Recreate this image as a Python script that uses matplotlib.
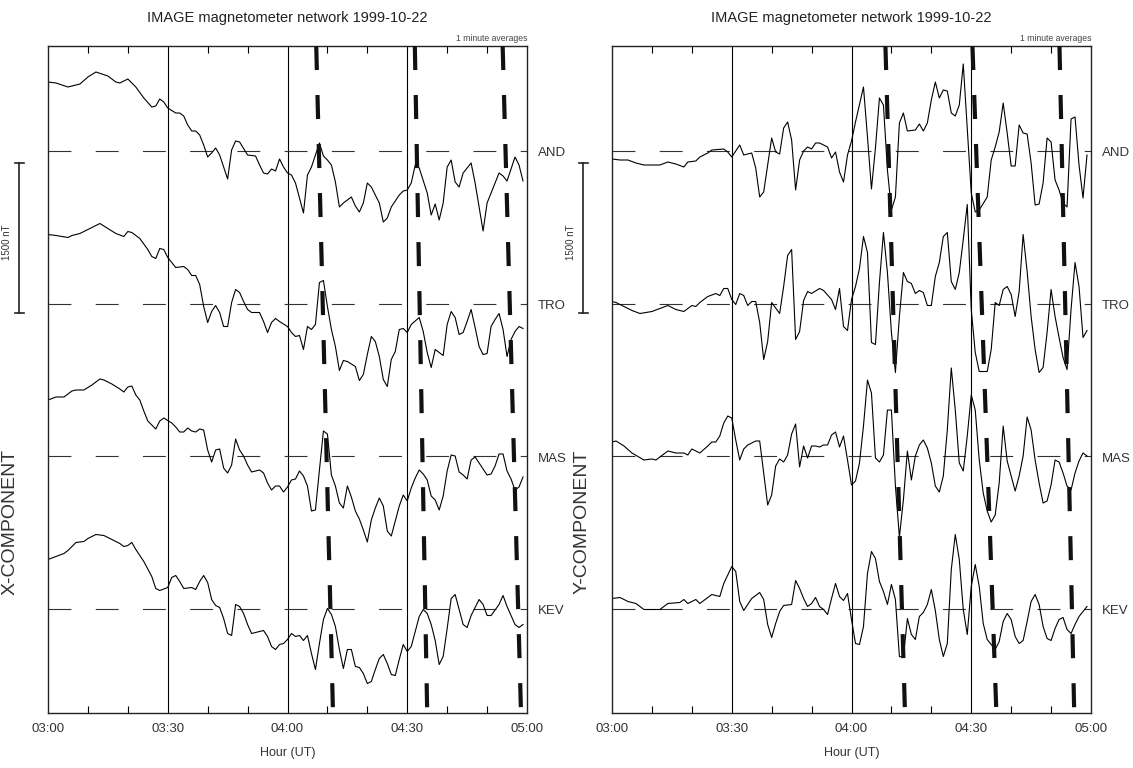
import numpy as np
import matplotlib.pyplot as plt
from matplotlib.transforms import blended_transform_factory

plt.rcParams['font.family'] = ['Liberation Sans', 'DejaVu Sans']
plt.rcParams['lines.scale_dashes'] = False

title = 'IMAGE magnetometer network 1999-10-22'
stations = ['AND', 'TRO', 'MAS', 'KEV']
base_nT = [5620, 4095, 2570, 1045]      # base line of each station (nT, stacked)
y_top = 6670
hour_ticks = [0, 30, 60, 90, 120]       # minutes after 03:00
hour_labels = ['03:00', '03:30', '04:00', '04:30', '05:00']
scale_nT = 1500
scale_bottom = 4000

# (minute after 03:00, deviation in nT)
and_x = [(0,690),(2,680),(5,640),(8,670),(10,740),(12,790),(15,750),(17,690),(18,680),(20,720),(22,640),(24,530),(26,440),(27,450),(28,520),(29,490),(30,430),(32,380),(33,380),(34,350),(35,260),(36,200),(37,200),(38,160),(39,60),(40,-60),(41,-20),(42,30),(43,-40),(45,-280),(46,10),(47,100),(48,90),(50,-40),(52,-50),(53,-140),(54,-220),(55,-230),(56,-180),(57,-200),(58,-80),(59,-160),(60,-220),(61,-240),(62,-320),(64,-620),(65,-240),(66,-160),(68,80),(69,-50),(70,-90),(71,-140),(72,-310),(73,-560),(74,-520),(76,-460),(77,-550),(78,-610),(79,-520),(80,-320),(81,-360),(83,-520),(84,-710),(85,-670),(86,-560),(88,-440),(89,-400),(90,-390),(91,-320),(92,-140),(93,-170),(95,-420),(96,-640),(97,-530),(98,-690),(99,-520),(100,-160),(101,-90),(102,-310),(103,-360),(104,-220),(106,-120),(107,-320),(109,-800),(110,-520),(112,-320),(113,-220),(114,-250),(115,-300),(117,-60),(118,-140),(119,-300)]
tro_x = [(0,690),(2,680),(5,660),(6,680),(8,700),(10,740),(13,800),(15,750),(17,700),(19,670),(20,720),(21,710),(23,650),(25,540),(26,470),(27,450),(28,550),(29,540),(30,460),(32,360),(34,370),(35,340),(36,280),(37,280),(38,190),(39,-30),(40,-190),(41,-80),(42,-20),(43,-90),(44,-230),(45,-230),(46,10),(47,140),(48,110),(49,20),(50,-60),(51,-90),(53,-90),(54,-180),(55,-290),(56,-190),(57,-150),(58,-180),(60,-230),(61,-290),(62,-330),(63,-320),(64,-460),(65,-230),(66,-260),(67,-210),(68,210),(69,230),(70,-30),(71,-260),(72,-430),(73,-670),(74,-570),(75,-580),(77,-630),(78,-770),(79,-710),(80,-510),(81,-330),(82,-380),(83,-530),(84,-760),(85,-830),(86,-560),(87,-480),(88,-260),(89,-250),(90,-290),(91,-210),(93,-140),(94,-280),(95,-490),(96,-640),(97,-460),(98,-490),(99,-520),(100,-210),(101,-80),(102,-140),(103,-310),(104,-290),(105,-180),(106,-60),(107,-240),(108,-430),(109,-510),(110,-500),(111,-230),(112,-160),(113,-100),(114,-260),(115,-530),(116,-360),(117,-280),(118,-230),(119,-250)]
mas_x = [(0,560),(2,590),(4,590),(6,650),(7,660),(9,660),(11,710),(13,770),(14,760),(16,720),(18,670),(19,640),(20,690),(21,700),(22,610),(23,560),(24,450),(25,350),(27,270),(28,350),(29,380),(31,330),(32,290),(33,240),(34,240),(35,280),(36,250),(37,240),(38,270),(39,260),(40,60),(41,-60),(42,60),(43,70),(44,-120),(45,-170),(46,-90),(47,170),(48,60),(49,0),(50,-90),(51,-160),(52,-150),(53,-140),(54,-170),(55,-270),(56,-340),(57,-300),(58,-300),(59,-360),(60,-310),(61,-240),(62,-230),(63,-150),(64,-200),(65,-300),(66,-550),(67,-540),(68,-140),(69,250),(70,220),(71,-190),(72,-300),(73,-470),(74,-520),(75,-300),(76,-410),(77,-550),(78,-630),(79,-740),(80,-860),(81,-640),(82,-520),(83,-420),(84,-500),(85,-750),(86,-800),(87,-650),(88,-500),(89,-390),(90,-450),(91,-320),(92,-220),(93,-140),(94,-180),(95,-240),(96,-400),(97,-440),(98,-540),(99,-400),(100,-150),(101,10),(102,0),(103,-160),(104,-190),(105,-230),(106,-40),(107,-10),(108,-70),(110,-190),(111,-180),(112,-100),(113,20),(114,20),(115,-150),(116,-230),(117,-340),(118,-310),(119,-210)]
kev_x = [(0,490),(2,520),(4,550),(5,580),(7,660),(9,670),(10,700),(12,740),(14,730),(16,690),(18,650),(19,620),(20,630),(21,660),(22,590),(24,470),(26,320),(27,200),(28,180),(30,210),(31,310),(32,330),(33,270),(34,200),(36,210),(37,190),(38,270),(39,330),(40,260),(41,90),(42,30),(43,10),(44,-100),(45,-250),(46,-270),(47,40),(48,20),(49,-50),(50,-160),(51,-250),(53,-230),(54,-220),(55,-280),(56,-380),(57,-410),(58,-360),(59,-350),(60,-310),(61,-250),(62,-280),(63,-270),(64,-320),(65,-270),(66,-450),(67,-610),(68,-350),(69,-110),(70,0),(71,-60),(72,-180),(73,-410),(74,-600),(75,-410),(76,-410),(77,-580),(78,-590),(79,-650),(80,-750),(81,-730),(82,-610),(83,-500),(84,-460),(85,-550),(86,-660),(87,-670),(88,-510),(89,-360),(90,-430),(91,-380),(92,-230),(93,-80),(94,-10),(95,-50),(96,-160),(97,-320),(98,-560),(99,-480),(100,-200),(101,100),(102,140),(103,-10),(104,-160),(105,-190),(106,-70),(108,90),(109,40),(110,-70),(111,-70),(113,40),(114,130),(115,20),(116,-70),(117,-160),(118,-190),(119,-160)]

and_y = [(0,-80),(2,-90),(4,-90),(6,-120),(8,-140),(12,-140),(14,-110),(16,-130),(18,-160),(19,-110),(21,-100),(22,-60),(24,-20),(25,10),(28,20),(29,-10),(30,-60),(32,60),(33,-40),(35,-20),(36,-170),(37,-460),(38,-410),(40,130),(41,-10),(42,-30),(43,230),(44,290),(45,110),(46,-390),(47,-90),(48,0),(49,40),(50,20),(51,80),(52,80),(54,40),(55,-70),(56,-10),(57,-210),(58,-310),(59,-40),(60,100),(61,290),(63,640),(64,140),(65,-380),(66,30),(67,530),(68,460),(69,-190),(70,-590),(71,-460),(72,280),(73,380),(74,200),(76,210),(77,270),(78,200),(79,280),(80,510),(81,690),(82,530),(83,610),(84,600),(85,380),(86,350),(87,460),(88,870),(90,-420),(91,-610),(92,-590),(94,-460),(95,-90),(96,40),(97,190),(98,480),(99,180),(100,-150),(101,-150),(102,260),(103,180),(104,170),(105,-120),(106,-540),(107,-530),(108,-320),(109,130),(110,90),(111,-290),(112,-390),(113,-520),(114,-560),(115,320),(116,340),(117,-140),(118,-470),(119,-40)]
tro_y = [(0,20),(1,10),(3,-30),(5,-70),(7,-100),(10,-80),(12,-50),(14,-20),(16,-60),(18,-80),(20,-20),(21,-30),(22,10),(24,70),(26,100),(27,80),(28,150),(29,150),(30,40),(31,-10),(32,100),(33,80),(34,-20),(35,20),(36,20),(37,-190),(38,-560),(39,-380),(40,10),(42,-100),(43,170),(44,480),(45,540),(46,-360),(47,-280),(48,30),(49,120),(50,100),(52,150),(53,130),(55,40),(56,-60),(57,150),(58,-230),(59,-270),(60,40),(61,170),(62,350),(63,670),(64,510),(65,-390),(66,-410),(67,210),(68,710),(69,310),(70,-290),(71,-690),(72,-130),(73,310),(74,220),(75,200),(76,100),(77,130),(78,110),(79,-20),(80,-20),(81,270),(82,410),(83,670),(84,710),(85,220),(86,140),(87,310),(88,640),(89,990),(90,-60),(91,-490),(92,-680),(94,-680),(95,-460),(96,10),(97,-20),(98,140),(99,170),(100,90),(101,-130),(102,120),(103,690),(104,320),(105,-130),(106,-460),(107,-690),(108,-640),(109,-290),(110,140),(111,-130),(112,-340),(113,-540),(114,-660),(115,-60),(116,410),(117,170),(118,-340),(119,-270)]
mas_y = [(0,140),(1,150),(3,100),(5,30),(8,-40),(10,-30),(11,-40),(12,-10),(14,50),(16,30),(18,30),(19,10),(20,70),(22,30),(24,100),(25,140),(26,140),(27,200),(28,330),(29,400),(30,380),(31,160),(32,-40),(33,70),(34,110),(36,150),(37,150),(38,-170),(39,-490),(40,-390),(41,-100),(42,-30),(43,-60),(44,10),(45,220),(46,320),(47,-110),(48,100),(49,-20),(50,100),(51,100),(52,90),(53,110),(54,110),(55,210),(56,240),(57,90),(58,200),(59,-40),(60,-290),(61,-250),(62,-70),(63,300),(64,760),(65,630),(66,-20),(67,-60),(68,10),(69,460),(70,460),(71,-300),(72,-810),(73,-440),(74,50),(75,-240),(76,0),(77,110),(78,160),(79,80),(80,-70),(81,-300),(82,-360),(83,-200),(84,260),(85,880),(86,460),(87,-70),(88,-150),(89,200),(90,610),(91,460),(92,-40),(93,-370),(94,-550),(95,-660),(96,-590),(97,-270),(98,300),(99,-50),(100,-200),(101,-350),(102,-200),(103,0),(104,390),(105,260),(106,-40),(107,-270),(108,-470),(109,-450),(110,-290),(111,-40),(112,-60),(113,-170),(114,-300),(115,-340),(116,-170),(117,-50),(118,30),(119,0)]
kev_y = [(0,100),(2,110),(4,70),(6,50),(8,-10),(10,-10),(12,-10),(14,50),(17,60),(18,90),(19,50),(21,90),(22,50),(24,110),(25,140),(27,120),(28,250),(30,420),(31,370),(32,70),(33,-20),(34,40),(35,100),(37,160),(38,90),(39,-160),(40,-290),(41,-150),(42,-30),(43,30),(45,40),(46,280),(47,200),(48,100),(49,20),(50,50),(51,110),(52,20),(53,-10),(54,-60),(55,100),(56,250),(57,120),(58,80),(59,150),(60,-110),(61,-350),(62,-360),(63,-180),(64,350),(65,570),(66,500),(67,270),(68,170),(69,40),(70,240),(71,90),(72,-480),(73,-490),(74,-100),(75,-260),(76,-310),(77,-80),(78,-40),(79,40),(80,190),(81,-20),(82,-310),(83,-480),(84,-350),(85,390),(86,740),(87,490),(88,-10),(89,-260),(90,220),(91,440),(92,220),(93,-150),(94,-310),(95,-360),(96,-410),(97,-330),(98,-130),(99,-50),(100,-110),(101,-280),(102,-350),(103,-320),(104,-130),(105,70),(106,140),(107,40),(108,-180),(109,-300),(110,-320),(111,-200),(112,-110),(113,-90),(114,-210),(115,-250),(116,-160),(117,-80),(119,20)]

# thick dashed lines: minute at top and at bottom of the panel
x_front_top = [67.2, 91.9, 113.9]
x_front_bot = [71.4, 95.0, 118.5]
y_front_top = [68.5, 90.3, 112.1]
y_front_bot = [73.4, 96.3, 115.8]


def panel(ax, traces, f_top, f_bot):
    ax.set_xlim(0, 120)
    ax.set_ylim(0, y_top)
    for m in hour_ticks[1:-1]:
        ax.axvline(m, color='k', lw=0.8, zorder=1)
    for base, tr in zip(base_nT, traces):
        ax.plot([0, 120], [base, base], color='#333', lw=0.8, ls=(0, (16.5, 17.5)), zorder=1)
        t, v = zip(*tr)
        ax.plot(t, base + np.array(v), color='k', lw=0.8, zorder=2)
    for a, b in zip(f_top, f_bot):
        ax.plot([a, b], [y_top, 0], color='#111', lw=3, ls=(0, (17.3, 18.0)),
                dash_capstyle='butt', zorder=3)

    ax.set_xticks(hour_ticks)
    ax.set_xticklabels(hour_labels)
    ax.set_xticks([m for m in range(10, 120, 10) if m % 30], minor=True)
    ax.tick_params(axis='x', which='major', length=0, pad=7, labelsize=9.5, labelcolor='#333')
    ax.tick_params(axis='x', which='minor', direction='in', top=True, length=5, width=0.8)
    ax.set_yticks([])
    for s in ax.spines.values():
        s.set_linewidth(1.0)
        s.set_color('#222')

    tr = blended_transform_factory(ax.transAxes, ax.transData)
    for name, base in zip(stations, base_nT):
        ax.text(1.023, base - 25, name, transform=tr, va='center', ha='left', fontsize=9.5, color='#333')

    # scale bar
    xb = -0.06
    ax.plot([xb, xb], [scale_bottom, scale_bottom + scale_nT], transform=tr, clip_on=False,
            color='#222', lw=1.2)
    for yy in [scale_bottom, scale_bottom + scale_nT]:
        ax.plot([xb - 0.009, xb + 0.009], [yy, yy], transform=tr, clip_on=False, color='#222', lw=1.2)
    ax.text(-0.0856, scale_bottom + scale_nT / 2 - 40, '%d nT' % scale_nT, transform=tr, rotation=90,
            ha='center', va='center', fontsize=7, color='#333')

    ax.text(0.5, 1.042, title, transform=ax.transAxes, ha='center', va='center',
            fontsize=10.5, color='#222')
    ax.text(1.0, 1.0115, '1 minute averages', transform=ax.transAxes, ha='right', va='center',
            fontsize=6.2, color='#444')


fig = plt.figure(figsize=(11.33, 7.68), dpi=100, facecolor='w')
ax1 = fig.add_axes([48 / 1133, 1 - 713 / 768, 479 / 1133, 667 / 768])
ax2 = fig.add_axes([612 / 1133, 1 - 713 / 768, 479 / 1133, 667 / 768])
panel(ax1, [and_x, tro_x, mas_x, kev_x], x_front_top, x_front_bot)
panel(ax2, [and_y, tro_y, mas_y, kev_y], y_front_top, y_front_bot)

fig.text(287.5 / 1133, 1 - 753 / 768, 'Hour (UT)', ha='center', va='center', fontsize=9, color='#333')
fig.text(851.5 / 1133, 1 - 753 / 768, 'Hour (UT)', ha='center', va='center', fontsize=9, color='#333')
fig.text(10 / 1133, 1 - 522 / 768, 'X-COMPONENT', rotation=90, ha='center', va='center',
         fontsize=14, color='#333')
fig.text(582 / 1133, 1 - 522 / 768, 'Y-COMPONENT', rotation=90, ha='center', va='center',
         fontsize=14, color='#333')

fig.savefig('out.png', dpi=100)
